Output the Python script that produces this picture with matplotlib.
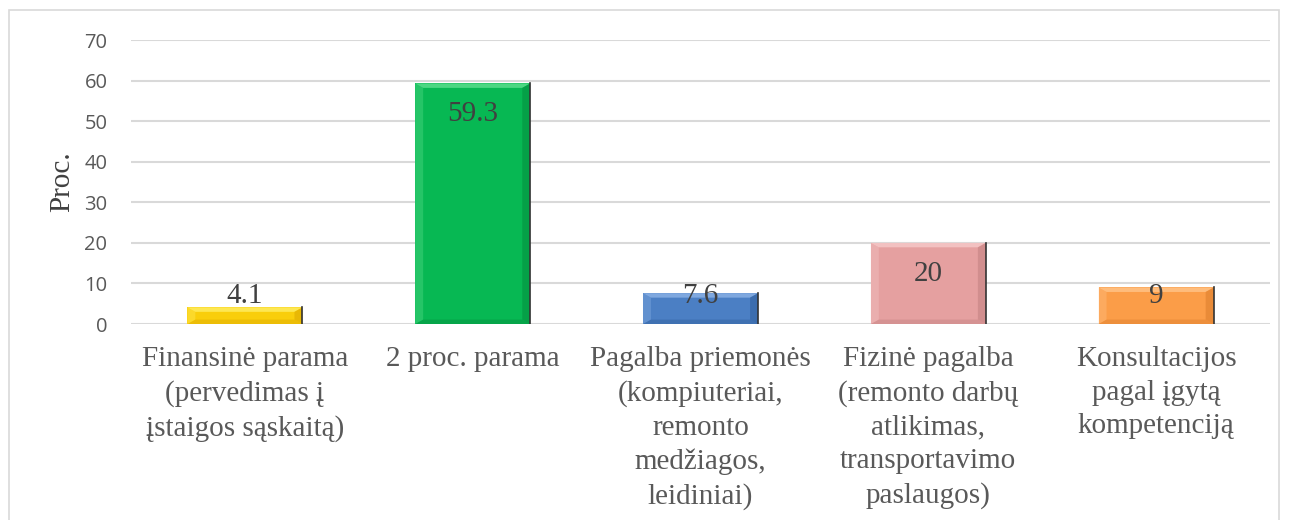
import matplotlib.pyplot as plt
from matplotlib.patches import Rectangle, Polygon

categories = ['Finansinė parama\n(pervedimas į\nįstaigos sąskaitą)',
              '2 proc. parama',
              'Pagalba priemonės\n(kompiuteriai,\nremonto\nmedžiagos,\nleidiniai)',
              'Fizinė pagalba\n(remonto darbų\natlikimas,\ntransportavimo\npaslaugos)',
              'Konsultacijos\npagal įgytą\nkompetenciją']
values = [4.1, 59.3, 7.6, 20, 9]
value_labels = ['4.1', '59.3', '7.6', '20', '9']
colors = ['#F9CE0B', '#07B853', '#4B7FC4', '#E5A0A0', '#FB9D48']
light = ['#FFEE66', '#5EE08F', '#8DB3E6', '#F6CACA', '#FFC58A']
dark = ['#D9A400', '#058A3C', '#2E5C99', '#BF7E7E', '#D97A2A']

serif = ['Liberation Serif', 'DejaVu Serif']
sans = ['Open Sans', 'DejaVu Sans']

fig = plt.figure(figsize=(12.89, 5.2), dpi=100)
ax = fig.add_axes([131/1289, 1-324/520, (1270-131)/1289, (324-40)/520])

x = list(range(len(values)))
w = 0.505
bars = ax.bar(x, values, width=w, color=colors, edgecolor='none', zorder=3)

# soft bevel: light top strip, darker bottom and right strips
for i, b in enumerate(bars):
    x0, y0 = b.get_x(), 0
    x1, y1 = x0 + b.get_width(), b.get_height()
    dx = 0.035
    dy = min(1.1, y1 / 3)
    ax.add_patch(Polygon([[x0, y1], [x1, y1], [x1 - dx, y1 - dy], [x0 + dx, y1 - dy]],
                         closed=True, color=light[i], zorder=4, lw=0, alpha=0.8))
    ax.add_patch(Polygon([[x0, y0], [x1, y0], [x1 - dx, y0 + dy], [x0 + dx, y0 + dy]],
                         closed=True, color=dark[i], zorder=4, lw=0, alpha=0.4))
    ax.add_patch(Polygon([[x1, y0], [x1, y1], [x1 - dx, y1 - dy], [x1 - dx, y0 + dy]],
                         closed=True, color=dark[i], zorder=4, lw=0, alpha=0.5))
    ax.add_patch(Polygon([[x0, y0], [x0, y1], [x0 + dx, y1 - dy], [x0 + dx, y0 + dy]],
                         closed=True, color=light[i], zorder=4, lw=0, alpha=0.35))
    ax.plot([x1, x1], [y0, y1], color='#333333', lw=1.2, zorder=5)

for xi, v, lab in zip(x, values, value_labels):
    ax.text(xi, max(v - 7.6, 6.9), lab, ha='center', va='center',
            fontsize=21, family=serif, color='#404040', zorder=6)

ax.set_xlim(-0.5, len(values) - 0.5)
ax.set_ylim(0, 70)
ax.set_yticks(range(0, 71, 10))
ax.grid(axis='y', color='#D9D9D9', lw=1.5, zorder=0)
ax.set_axisbelow(True)
for s in ['top', 'right', 'left', 'bottom']:
    ax.spines[s].set_visible(False)
ax.tick_params(axis='y', length=0, pad=17, labelsize=14.5, labelcolor='#595959')
ax.tick_params(axis='x', length=0, pad=16)
for t in ax.get_yticklabels():
    t.set_family(sans)
ax.set_xticks(x)
ax.set_xticklabels(categories, family=serif, fontsize=21, color='#595959',
                   linespacing=1.38, va='top')
ax.set_ylabel('Proc.', family=serif, fontsize=21, color='#404040')
ax.yaxis.set_label_coords((75 - 131) / (1270 - 131), 0.5)

fig.patches.append(Rectangle((9/1289, -0.1), (1279-9)/1289, 1.1 - 10/520,
                             transform=fig.transFigure, fill=False,
                             edgecolor='#D9D9D9', lw=1.2))

fig.savefig('out.png', dpi=100)
